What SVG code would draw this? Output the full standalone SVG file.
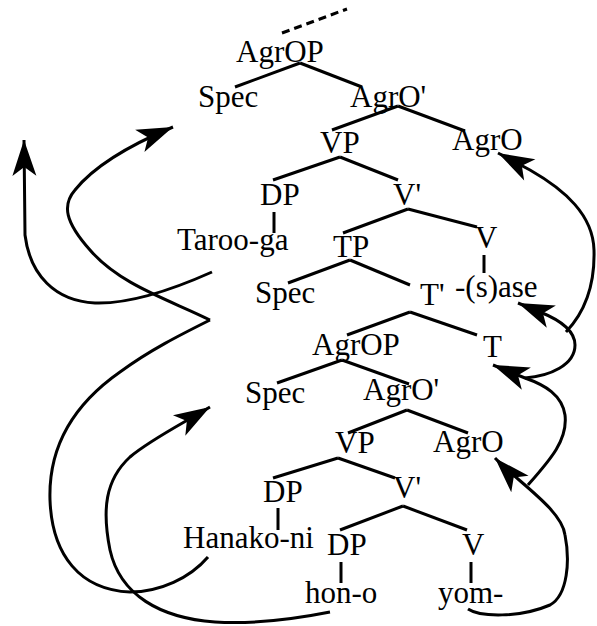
<svg xmlns="http://www.w3.org/2000/svg" width="597" height="626" viewBox="0 0 597 626">
<style>
text{font-family:"Liberation Serif","Times New Roman",serif;font-size:31px;fill:#000}
.e{stroke:#000;stroke-width:3;fill:none}
.c{stroke:#000;stroke-width:3;fill:none;marker-end:url(#ah)}
.c0{stroke:#000;stroke-width:3;fill:none}
</style>
<defs>
<marker id="ah" markerUnits="userSpaceOnUse" viewBox="-37 -13 38 26" markerWidth="38" markerHeight="26" refX="0" refY="0" orient="auto">
<path d="M0,0 L-36,-12 L-27,0 L-36,12 Z" fill="#000"/>
</marker>
</defs>
<rect width="597" height="626" fill="#fff"/>
<g id="edges">
<line class="e" x1="282" y1="33" x2="347" y2="9" stroke-dasharray="8 5" stroke-width="3.5"/>
<line class="e" x1="300" y1="63" x2="235" y2="87"/>
<line class="e" x1="300" y1="63" x2="362" y2="87"/>
<line class="e" x1="398" y1="106" x2="332" y2="130"/>
<line class="e" x1="398" y1="106" x2="465" y2="131"/>
<line class="e" x1="340" y1="157" x2="273" y2="180"/>
<line class="e" x1="340" y1="157" x2="398" y2="180"/>
<line class="e" x1="274" y1="212" x2="274" y2="233"/>
<line class="e" x1="408" y1="209" x2="343" y2="233"/>
<line class="e" x1="408" y1="209" x2="477" y2="227"/>
<line class="e" x1="484" y1="255" x2="484" y2="273"/>
<line class="e" x1="350" y1="260" x2="288" y2="283"/>
<line class="e" x1="350" y1="260" x2="410" y2="285"/>
<line class="e" x1="410" y1="312" x2="347" y2="335"/>
<line class="e" x1="410" y1="312" x2="477" y2="335"/>
<line class="e" x1="342" y1="360" x2="277" y2="383"/>
<line class="e" x1="342" y1="360" x2="409" y2="384"/>
<line class="e" x1="407" y1="410" x2="348" y2="433"/>
<line class="e" x1="407" y1="410" x2="468" y2="433"/>
<line class="e" x1="338" y1="458" x2="273" y2="478"/>
<line class="e" x1="338" y1="458" x2="395" y2="478"/>
<line class="e" x1="278" y1="508" x2="278" y2="530"/>
<line class="e" x1="403" y1="506" x2="340" y2="530"/>
<line class="e" x1="403" y1="506" x2="467" y2="530"/>
<line class="e" x1="341" y1="562" x2="341" y2="583"/>
<line class="e" x1="471" y1="562" x2="471" y2="583"/>
</g>
<g id="movement">
<path class="c" d="M212,272 C165,293 125,304 95,303 C55,301 30,275 25,235 L24,140"/>
<path class="c0" d="M208,557 C190,578 160,592 130,592 C80,590 52,555 50,500 C48,440 80,400 120,372 C150,350 180,335 210,320"/>
<path class="c" d="M210,320 C170,300 120,285 90,250 C65,222 62,205 75,190 C95,165 130,145 173,127"/>
<path class="c" d="M330,612 C290,620 250,624 215,622 C160,618 120,595 110,550 C102,510 105,480 130,457 C150,440 180,425 210,407"/>
<path class="c" d="M468,609 C480,617 520,618 550,605 C568,595 570,560 565,535 C562,510 518,482 495,458"/>
<path class="c" d="M528,485 C550,460 568,440 565,415 C562,395 545,385 525,378 L493,365"/>
<path class="c" d="M525,378 C550,376 575,365 575,345 C575,330 560,320 540,312 L518,303"/>
<path class="c" d="M566,332 C585,312 595,285 594,250 C593,215 565,190 530,170 L498,153"/>
</g>
<g id="n-agrop1"><text x="236" y="62">AgrOP</text></g>
<g id="n-spec1"><text x="198" y="107">Spec</text></g>
<g id="n-agrobar1"><text x="350" y="107">AgrO'</text></g>
<g id="n-vp1"><text x="320" y="153">VP</text></g>
<g id="n-agro1"><text x="452" y="150">AgrO</text></g>
<g id="n-dp1"><text x="260" y="205">DP</text></g>
<g id="n-vbar1"><text x="393" y="205">V'</text></g>
<g id="n-taroo"><text x="177" y="250">Taroo-ga</text></g>
<g id="n-tp"><text x="333" y="257">TP</text></g>
<g id="n-v1"><text x="475" y="248">V</text></g>
<g id="n-sase"><text x="455" y="297">-(s)ase</text></g>
<g id="n-spec2"><text x="255" y="303">Spec</text></g>
<g id="n-tbar"><text x="420" y="305">T'</text></g>
<g id="n-agrop2"><text x="312" y="355">AgrOP</text></g>
<g id="n-t"><text x="483" y="357">T</text></g>
<g id="n-spec3"><text x="245" y="403">Spec</text></g>
<g id="n-agrobar2"><text x="363" y="400">AgrO'</text></g>
<g id="n-vp2"><text x="335" y="453">VP</text></g>
<g id="n-agro2"><text x="433" y="452">AgrO</text></g>
<g id="n-dp2"><text x="263" y="502">DP</text></g>
<g id="n-vbar2"><text x="393" y="498">V'</text></g>
<g id="n-hanako"><text x="183" y="548">Hanako-ni</text></g>
<g id="n-dp3"><text x="327" y="555">DP</text></g>
<g id="n-v2"><text x="462" y="555">V</text></g>
<g id="n-hon"><text x="305" y="603">hon-o</text></g>
<g id="n-yom"><text x="438" y="603">yom-</text></g>
</svg>
